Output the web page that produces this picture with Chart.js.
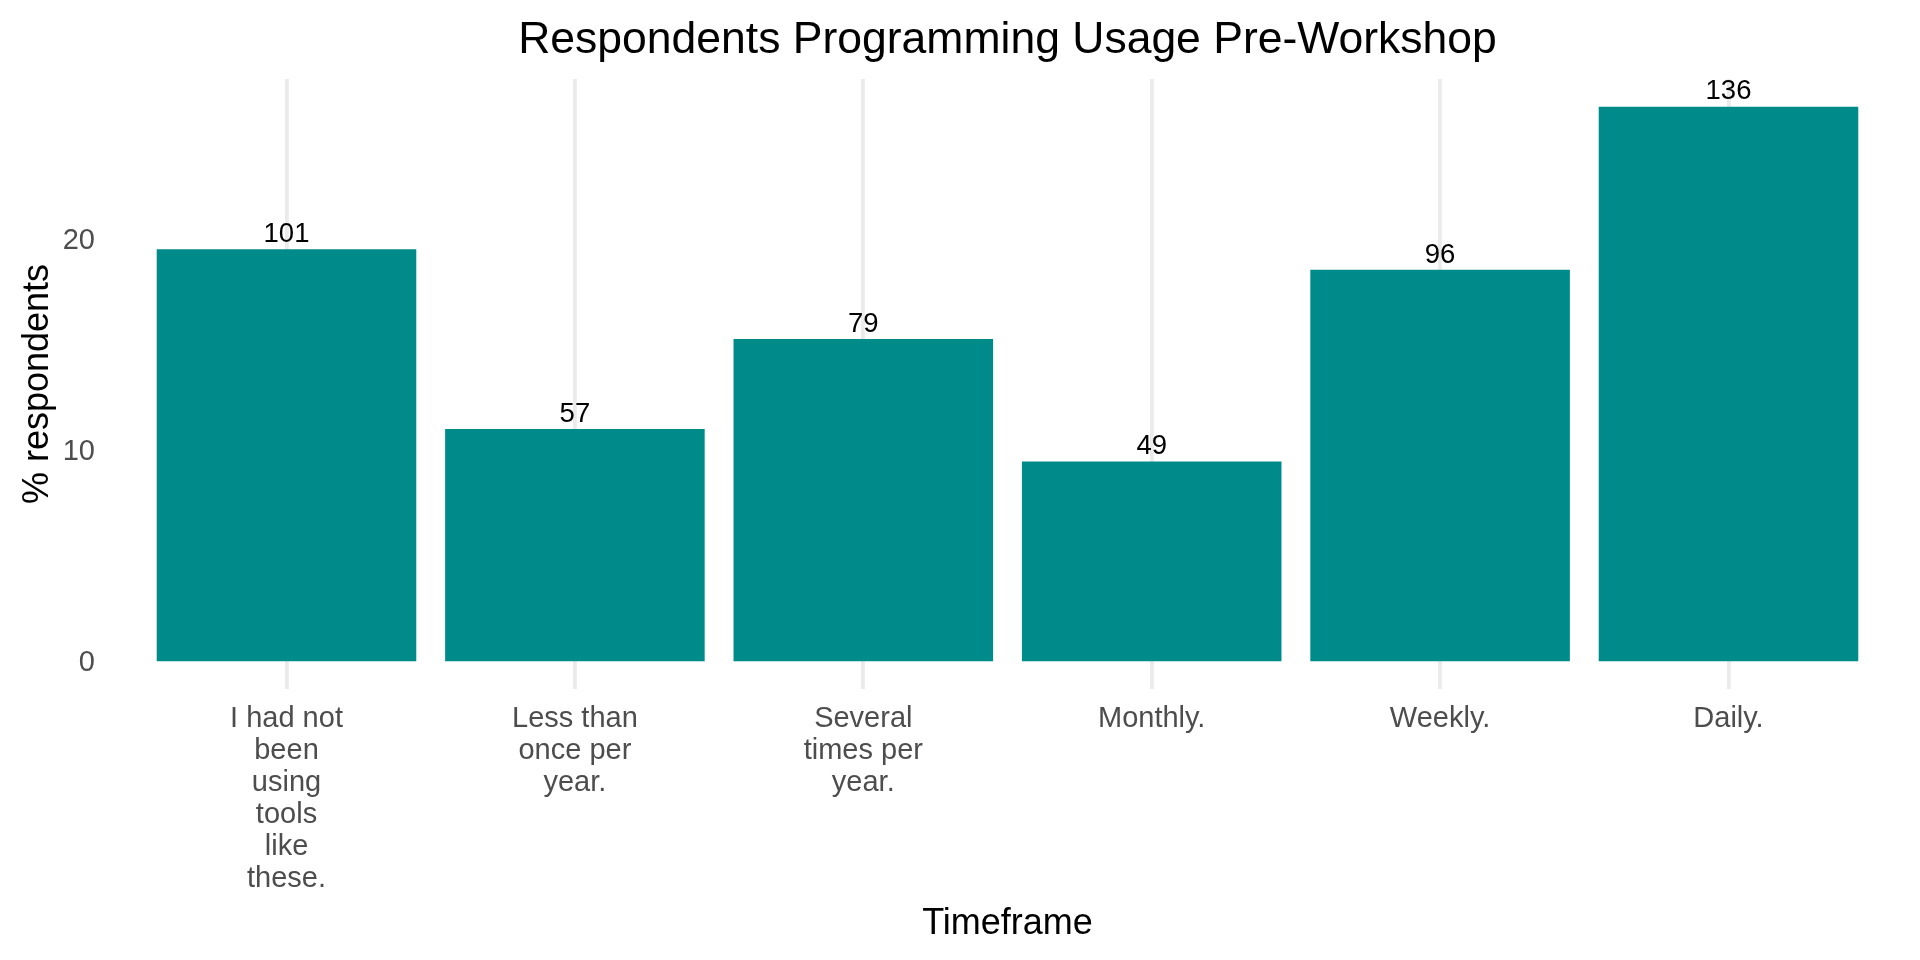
<!DOCTYPE html>
<html>
<head>
<meta charset="utf-8">
<script src="https://cdn.jsdelivr.net/npm/chart.js@4.4.1/dist/chart.umd.min.js"></script>
<style>
  html, body { margin: 0; padding: 0; background: #ffffff; }
  #wrap { width: 1920px; height: 960px; }
</style>
</head>
<body>
<div id="wrap"><canvas id="c" width="1920" height="960"></canvas></div>
<script>
// ---- data ----
const categories = [
  ["I had not", "been", "using", "tools", "like", "these."],
  ["Less than", "once per", "year."],
  ["Several", "times per", "year."],
  ["Monthly."],
  ["Weekly."],
  ["Daily."]
];
const percentRespondents = [19.50, 11.00, 15.25, 9.46, 18.53, 26.25];
const respondentCounts = [101, 57, 79, 49, 96, 136];
const yTickValues = [0, 10, 20];

const chartTitle = "Respondents Programming Usage Pre-Workshop";
const xTitle = "Timeframe";
const yTitle = "% respondents";

const FONT = "'Liberation Sans', Arial, Helvetica, sans-serif";

const countLabels = {
  id: 'countLabels',
  afterDatasetsDraw(chart) {
    const ctx = chart.ctx;
    const meta = chart.getDatasetMeta(0);
    ctx.save();
    ctx.fillStyle = '#000000';
    ctx.font = '27.5px ' + FONT;
    ctx.textAlign = 'center';
    ctx.textBaseline = 'alphabetic';
    meta.data.forEach((bar, i) => {
      ctx.fillText(String(respondentCounts[i]), bar.x, bar.y - 7.3);
    });
    ctx.restore();
  }
};

new Chart(document.getElementById('c'), {
  type: 'bar',
  data: {
    labels: categories,
    datasets: [{
      data: percentRespondents,
      backgroundColor: '#008B8B',
      borderWidth: 0,
      barPercentage: 0.9,
      categoryPercentage: 1.0
    }]
  },
  options: {
    responsive: false,
    animation: false,
    devicePixelRatio: 1,
    layout: { padding: { left: 0, right: 47.3, top: 0, bottom: 0 } },
    plugins: {
      legend: { display: false },
      tooltip: { enabled: false },
      title: {
        display: true,
        text: chartTitle,
        fullSize: false,
        color: '#000000',
        font: { family: FONT, size: 44.5, weight: 'normal', lineHeight: 1.2 },
        padding: { top: 13.8, bottom: 11.8 }
      }
    },
    scales: {
      x: {
        type: 'category',
        offset: true,
        border: { display: false },
        grid: {
          display: true,
          drawTicks: false,
          color: '#EBEBEB',
          lineWidth: 3.8,
          offset: false
        },
        ticks: {
          autoSkip: false,
          maxRotation: 0,
          minRotation: 0,
          color: '#4D4D4D',
          padding: 13.8,
          font: { family: FONT, size: 29, lineHeight: 32 / 29 }
        },
        title: {
          display: true,
          text: xTitle,
          color: '#000000',
          font: { family: FONT, size: 36, lineHeight: 1.2 },
          padding: { top: 0, bottom: 14.6 }
        },
        afterFit(scale) { scale.height = 271; }
      },
      y: {
        type: 'linear',
        min: -1.3125,
        max: 27.5625,
        border: { display: false },
        grid: { display: false, drawTicks: false },
        ticks: {
          color: '#4D4D4D',
          padding: 47.3,
          labelOffset: 2,
          font: { family: FONT, size: 29, lineHeight: 1.2 }
        },
        afterBuildTicks(scale) {
          scale.ticks = yTickValues.map(v => ({ value: v }));
        },
        title: {
          display: true,
          text: yTitle,
          color: '#000000',
          font: { family: FONT, size: 36, lineHeight: 1.2 },
          padding: { top: 16, bottom: 0 }
        },
        afterFit(scale) { scale.width = 142.3; }
      }
    }
  },
  plugins: [countLabels]
});
</script>
</body>
</html>
